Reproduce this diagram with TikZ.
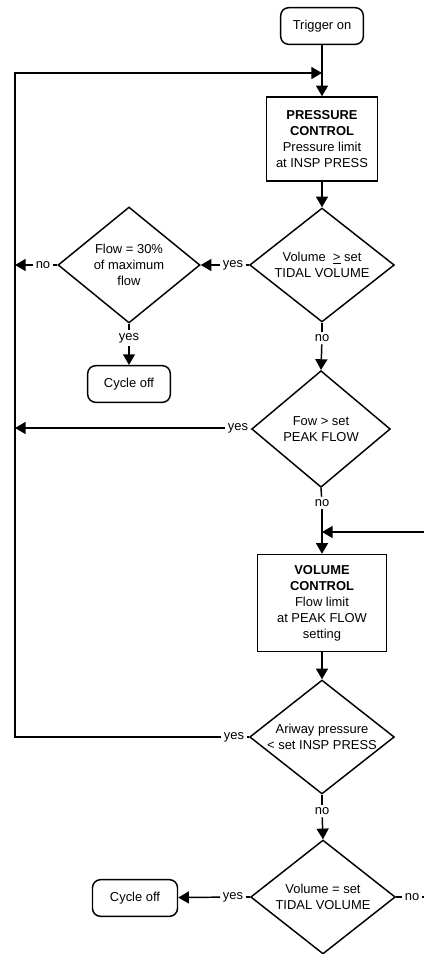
\documentclass[tikz,border=0pt]{standalone}
\usepackage{fontspec}
\setmainfont{Liberation Sans}
\usetikzlibrary{arrows.meta}
\usetikzlibrary{shapes.geometric}
\usetikzlibrary{positioning}

\begin{document}
\begin{tikzpicture} [
        x = 0.75pt,
        y = -0.75pt,
        line width = 1.1pt,
        every node/.style = {
          align = center,
          font = \fontsize{9.7}{12}\selectfont,
        },
        procbox/.style = {
          draw,
          inner sep = 2pt,
        },
        termbox/.style = {
          draw,
          rounded corners = 6pt,
          minimum width = 62pt,
          minimum height = 27.5pt,
        },
        decision/.style = {
          draw,
          diamond,
          minimum width = 108.5pt,
          minimum height = 85.5pt,
          inner sep = 0pt,
        },
        lbl/.style = {
          inner sep = 1.5pt,
        },
        flow/.style = {
          draw,
          -{Triangle[length=8pt, width=9pt]},
        },
      ]

    \useasboundingbox (0,0) rectangle (424,954);
    \clip (0,0) rectangle (424,954);

    % boxes down the middle
    \node [termbox] (trigOn) at (322,26) {Trigger on};
    \node [procbox, minimum width = 83pt, minimum height = 63pt] (pressCtrl) at (322,139)
      {\textbf{PRESSURE}\\\textbf{CONTROL}\\Pressure limit\\at INSP PRESS};
    \node [decision, label={center:Volume \ \underline{>} set\\TIDAL VOLUME}] (volCheck) at (322,265) {};
    \node [decision, minimum width = 104pt, minimum height = 87.5pt,
           label={center:Fow > set\\PEAK FLOW}] (peakCheck) at (321,429) {};
    \node [procbox, minimum width = 96.75pt, minimum height = 72.75pt] (volCtrl) at (322,603)
      {\textbf{VOLUME}\\\textbf{CONTROL}\\Flow limit\\at PEAK FLOW\\setting};
    \node [decision, label={center:Ariway pressure\\< set INSP PRESS}] (airCheck) at (322,737) {};
    \node [decision, label={center:Volume = set\\TIDAL VOLUME}] (tidalCheck) at (323,897) {};

    % side branches
    \node [decision, minimum width = 106.5pt, minimum height = 87pt,
           label={center:Flow = 30\%\\of maximum\\flow}] (flowCheck) at (129,265) {};
    \node [termbox] (cycleOff) at (129,384) {Cycle off};
    \node [termbox, minimum width = 63.75pt] (cycleOff2) at (135,898) {Cycle off};

    % yes / no labels
    \node [lbl] (yesVol) at (233,265) {yes};
    \node [lbl] (noFlow) at (43,265) {no};
    \node [lbl] (yesFlow) at (129,338) {yes};
    \node [lbl] (noVol) at (322,338) {no};
    \node [lbl] (yesPeak) at (238,428) {yes};
    \node [lbl] (noPeak) at (322,503) {no};
    \node [lbl] (yesAir) at (234,737) {yes};
    \node [lbl] (noAir) at (322,811) {no};
    \node [lbl] (yesTidal) at (233,897) {yes};
    \node [lbl] (noTidal) at (412,897) {no};

    % loop points
    \coordinate (loopTop) at (15,73);
    \coordinate (joinTop) at (322,73);
    \coordinate (loopFlow) at (15,265);
    \coordinate (loopPeak) at (15,428);
    \coordinate (loopRight) at (440,897);
    \coordinate (joinMid) at (322,532);

    \draw[flow] (trigOn) -- (pressCtrl);
    \draw[flow] (pressCtrl) -- (volCheck);

    \draw (volCheck.west) -- (yesVol);
    \draw[flow] (yesVol) -- (flowCheck.east);
    \draw (flowCheck.west) -- (noFlow);
    \draw[flow] (noFlow) -- (loopFlow);
    \draw (flowCheck.south) -- (yesFlow);
    \draw[flow] (yesFlow) -- (cycleOff);

    \draw (volCheck.south) -- (noVol);
    \draw[flow] (noVol) -- (peakCheck.north);
    \draw (peakCheck.west) -- (yesPeak);
    \draw[flow] (yesPeak) -- (loopPeak);

    \draw (peakCheck.south) -- (noPeak);
    \draw[flow] (noPeak) -- (volCtrl);
    \draw[flow] (volCtrl) -- (airCheck.north);

    \draw (airCheck.west) -- (yesAir);
    \draw[flow] (yesAir) -| (loopTop) -- (joinTop);
    \draw (airCheck.south) -- (noAir);
    \draw[flow] (noAir) -- (tidalCheck.north);

    \draw (tidalCheck.west) -- (yesTidal);
    \draw[flow] (yesTidal) -- (cycleOff2);
    \draw (tidalCheck.east) -- (noTidal);
    \draw[flow] (noTidal) -- (loopRight) |- (joinMid);
  \end{tikzpicture}
\end{document}
